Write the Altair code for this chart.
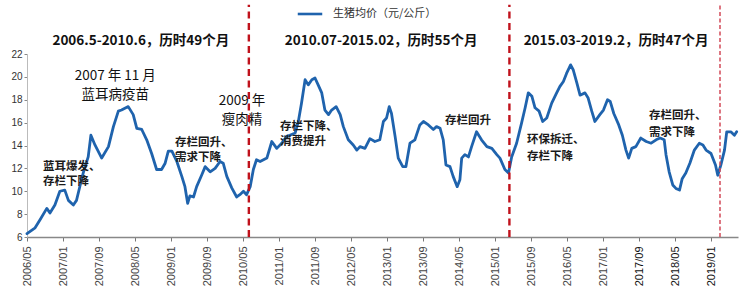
import altair as alt
import pandas as pd

# x = months elapsed since 2006/05, value = average hog price (yuan/kg)
MONTHS = [0, 1.8, 2.9, 4.4, 5.1, 6.2, 7.3, 8.4, 9.2, 10.3, 11.0, 11.8, 12.5, 13.6, 14.2, 15.1,
          16.6, 18.1, 19.2, 20.3, 21.0, 22.5, 23.6, 24.4, 25.5, 26.6, 27.7, 28.8, 29.9, 30.7,
          31.4, 32.2, 33.3, 34.4, 35.1, 35.7, 36.2, 37.0, 37.7, 38.8, 39.6, 40.7, 41.8, 42.9,
          43.6, 44.4, 45.5, 46.6, 47.3, 48.1, 48.8, 49.6, 50.3, 51.0, 51.8, 53.3, 54.4, 55.5,
          56.6, 57.7, 58.4, 59.6, 60.3, 61.0, 61.8, 62.5, 63.3, 64.0, 64.7, 65.5, 66.2, 67.0,
          67.7, 68.7, 69.6, 70.3, 71.4, 72.5, 73.3, 74.0, 75.1, 76.2, 77.3, 78.4, 79.2, 79.9,
          80.5, 81.0, 81.8, 82.5, 83.5, 84.2, 85.1, 86.2, 87.3, 88.1, 89.2, 90.3, 91.0, 91.8,
          92.5, 93.1, 94.0, 94.7, 95.6, 96.2, 96.6, 97.3, 98.1, 98.8, 99.9, 101.0, 102.2, 103.3,
          104.4, 105.1, 106.2, 107.0, 107.7, 108.8, 109.9, 110.7, 111.4, 112.2, 112.9, 113.8,
          114.6, 115.5, 116.6, 117.7, 118.4, 119.2, 119.9, 120.8, 121.4, 122.2, 122.9, 124.0,
          124.7, 125.5, 126.2, 127.3, 128.1, 129.0, 129.6, 130.4, 131.5, 132.3, 133.1, 133.7,
          134.4, 135.3, 136.4, 137.6, 138.7, 139.8, 140.7, 141.6, 142.0, 142.7, 143.5, 144.2,
          145.0, 145.6, 146.4, 147.3, 148.3, 149.4, 150.2, 150.9, 152.0, 153.0, 153.5, 154.2,
          155.0, 155.5, 156.4, 157.2, 157.7]
PRICES = [6.3, 6.8, 7.5, 8.5, 8.1, 8.8, 10.0, 10.1, 9.2, 8.8, 9.2, 10.5, 11.6, 13.0, 14.9, 14.05,
          12.9, 13.9, 15.65, 17.0, 17.1, 17.4, 16.7, 15.5, 15.4, 14.5, 13.3, 11.9, 11.9, 12.45,
          13.5, 13.5, 12.6, 11.3, 10.4, 8.95, 9.6, 9.5, 10.4, 11.4, 12.15, 11.7, 12.0, 12.6,
          12.45, 11.3, 10.3, 9.5, 9.7, 10.0, 9.7, 10.4, 11.9, 12.75, 12.6, 12.9, 14.35, 13.75,
          14.2, 14.8, 14.9, 15.1, 16.1, 17.7, 19.75, 19.3, 19.75, 19.9, 19.3, 18.6, 17.1, 16.7,
          17.1, 17.4, 16.7, 15.65, 14.5, 14.05, 13.6, 13.9, 13.75, 14.6, 14.35, 14.5, 16.1, 16.4,
          17.4, 16.8, 14.8, 12.9, 12.15, 12.15, 14.2, 14.5, 15.8, 16.1, 15.8, 15.4, 15.65, 15.5,
          14.5, 12.3, 12.15, 11.3, 10.4, 11.0, 12.9, 13.2, 13.0, 13.9, 15.2, 14.5, 13.9, 13.75,
          13.2, 12.9, 11.9, 11.6, 13.0, 14.2, 15.95, 17.3, 18.6, 18.3, 17.3, 17.0,
          16.1, 16.4, 17.7, 18.6, 19.15, 19.6, 20.3, 21.05, 20.6, 19.45, 18.4, 18.6,
          18.15, 17.0, 16.1, 16.7, 17.1, 18.0, 17.85, 16.8, 15.8, 14.9, 13.6, 12.9,
          13.75, 13.9, 14.65, 14.35, 14.2, 14.5, 14.65, 14.5, 13.2, 11.7, 10.55, 10.25,
          10.1, 11.1, 11.6, 12.45, 13.6, 14.2, 14.05, 13.6, 13.3, 12.3, 11.4, 12.3,
          13.6, 15.2, 15.2, 14.9, 15.2]

TICK_MONTHS = [0, 8, 16, 24, 32, 40, 48, 56, 64, 72, 80, 88, 96, 104, 112, 120, 128, 136, 144, 152]
TICK_LABELS = ["2006/05", "2007/01", "2007/09", "2008/05", "2009/01", "2009/09", "2010/05",
               "2011/01", "2011/09", "2012/05", "2013/01", "2013/09", "2014/05", "2015/01",
               "2015/09", "2016/05", "2017/01", "2017/09", "2018/05", "2019/01"]
Y_TICKS = [6, 8, 10, 12, 14, 16, 18, 20, 22]

SERIES = "生猪均价（元/公斤）"

# cycle boundaries (months since 2006/05)
BREAK_MONTHS = [49.3, 107.2, 154.0]
BREAK_STYLE = ["main", "main", "last"]
BREAK_BOTTOM = [6, 6, 6]
BREAK_TOP = [26.3, 26.3, 26.3]

# period headings
TITLE_TEXT = ["2006.5-2010.6，历时49个月", "2010.07-2015.02，历时55个月", "2015.03-2019.2，历时47个月"]
TITLE_MONTH = [25.3, 78.7, 130.9]
TITLE_VALUE = [23.1, 23.1, 23.1]

# plain event notes
NOTE_TEXT = ["2007 年 11 月", "蓝耳病疫苗", "2009 年", "瘦肉精"]
NOTE_MONTH = [19.6, 19.6, 47.8, 47.8]
NOTE_VALUE = [20.05, 18.45, 17.88, 16.24]

# bold cause notes (left aligned)
CAUSE_TEXT = ["蓝耳爆发、", "存栏下降", "存栏回升、", "需求下降", "存栏下降、", "消费提升",
              "存栏回升", "环保拆迁、", "存栏下降", "存栏回升、", "需求下降"]
CAUSE_MONTH = [3.56, 3.56, 32.9, 32.9, 56.2, 56.2, 92.9, 111.1, 111.1, 138.2, 138.2]
CAUSE_VALUE = [12.15, 10.82, 14.25, 12.9, 15.58, 14.3, 16.18, 14.52, 13.03, 16.56, 15.08]

price_df = pd.DataFrame({"m": MONTHS, "v": PRICES, "s": SERIES})
break_df = pd.DataFrame({"m": BREAK_MONTHS, "v": BREAK_BOTTOM, "v2": BREAK_TOP, "k": BREAK_STYLE})
title_df = pd.DataFrame({"m": TITLE_MONTH, "v": TITLE_VALUE, "t": TITLE_TEXT})
note_df = pd.DataFrame({"m": NOTE_MONTH, "v": NOTE_VALUE, "t": NOTE_TEXT})
cause_df = pd.DataFrame({"m": CAUSE_MONTH, "v": CAUSE_VALUE, "t": CAUSE_TEXT})

label_expr = ""
for mm, lab in zip(TICK_MONTHS, TICK_LABELS):
    label_expr += f"datum.value == {mm} ? '{lab}' : "
label_expr += "''"

xscale = alt.Scale(domain=[0, 158], nice=False, zero=False)
yscale = alt.Scale(domain=[6, 22], nice=False, zero=False)

x_axis = alt.Axis(values=TICK_MONTHS, labelExpr=label_expr, labelAngle=270,
                  labelFont="Liberation Sans", labelFontSize=11,
                  labelColor={"expr": "datum.value >= 136 ? '#111111' : '#444444'"},
                  labelPadding=5, tickSize=4, tickColor="#777777",
                  domainColor="#888888", domainWidth=1.5, grid=False,
                  labelOverlap=False, labelBound=False, labelFlush=False)
y_axis = alt.Axis(values=Y_TICKS, labelFont="Liberation Sans", labelFontSize=10,
                  labelColor="#333333", labelPadding=2, tickSize=3,
                  tickColor="#888888", domainColor="#bbbbbb", domainWidth=1,
                  grid=False, labelOverlap=False, labelFlush=False, labelBound=False)

x_enc = alt.X("m:Q", scale=xscale, title=None, axis=x_axis)
y_enc = alt.Y("v:Q", scale=yscale, title=None, axis=y_axis)

line = alt.Chart(price_df).mark_line(strokeWidth=2.8, strokeJoin="round", strokeCap="round").encode(
    x=x_enc, y=y_enc,
    color=alt.Color("s:N", scale=alt.Scale(domain=[SERIES], range=["#1f63ad"]),
                    legend=alt.Legend(title=None, orient="none", legendX=269, legendY=-54,
                                      symbolType="stroke", symbolSize=600,
                                      symbolStrokeWidth=2.6, labelFont="Noto Sans CJK SC",
                                      labelFontSize=11, labelColor="#333333",
                                      labelOffset=9, padding=0))
)

titles = alt.Chart(title_df).mark_text(font="Noto Sans CJK SC", fontSize=13.5, fontWeight="bold",
                                       color="#111111", align="center", baseline="middle").encode(
    x=x_enc, y=y_enc, text="t:N")

notes = alt.Chart(note_df).mark_text(font="Noto Sans CJK SC", fontSize=13.5, fontWeight="normal",
                                     color="#111111", align="center", baseline="middle").encode(
    x=x_enc, y=y_enc, text="t:N")

causes = alt.Chart(cause_df).mark_text(font="Noto Sans CJK SC", fontSize=11.5, fontWeight="bold",
                                       color="#1a1a1a", align="left", baseline="middle").encode(
    x=x_enc, y=y_enc, text="t:N")

rules_main = alt.Chart(break_df).transform_filter(alt.datum.k == "main").mark_rule(
    color="#c0121c", strokeWidth=2.4, strokeDash=[7, 4.5]).encode(
    x=x_enc, y=y_enc, y2="v2:Q")

rules_last = alt.Chart(break_df).transform_filter(alt.datum.k == "last").mark_rule(
    color="#d24a58", strokeWidth=1.5, strokeDash=[4, 2.5]).encode(
    x=x_enc, y=y_enc, y2="v2:Q")

chart = alt.layer(line, titles, notes, causes, rules_main, rules_last).properties(
    width=711, height=183,
    autosize=alt.AutoSizeParams(type="none"),
    padding={"left": 27, "top": 54, "right": 3, "bottom": 51},
    background="white",
).configure_view(stroke=None)

chart.save("out.html", embed_options={"renderer": "svg", "actions": False})
